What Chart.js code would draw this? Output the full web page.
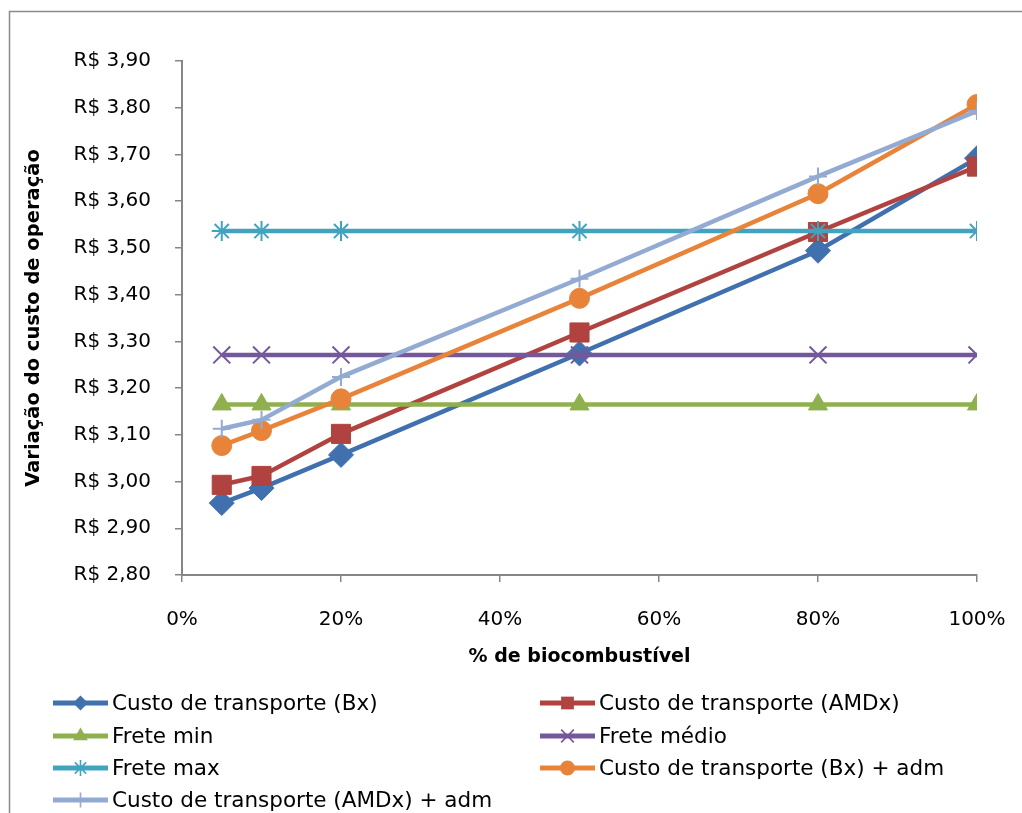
<!DOCTYPE html>
<html>
<head>
<meta charset="utf-8">
<script src="https://cdn.jsdelivr.net/npm/chart.js@4/dist/chart.umd.min.js"></script>
<style>
  html, body { margin: 0; padding: 0; background: #ffffff; }
  #wrap { width: 1022px; height: 813px; position: relative; }
</style>
</head>
<body>
<div id="wrap"><canvas id="chart" width="1022" height="813"></canvas></div>
<script>
// Share of biofuel in the blend (%)
const biofuelPct = [5, 10, 20, 50, 80, 100];

// Operating cost per series (R$)
const custoBx      = [2.954, 2.986, 3.057, 3.274, 3.494, 3.692];
const custoAMDx    = [2.993, 3.012, 3.102, 3.319, 3.534, 3.674];
const freteMin     = [3.165, 3.165, 3.165, 3.165, 3.165, 3.165];
const freteMedio   = [3.271, 3.271, 3.271, 3.271, 3.271, 3.271];
const freteMax     = [3.536, 3.536, 3.536, 3.536, 3.536, 3.536];
const custoBxAdm   = [3.077, 3.109, 3.177, 3.392, 3.616, 3.807];
const custoAMDxAdm = [3.113, 3.132, 3.224, 3.434, 3.653, 3.793];

const seriesNames = [
  'Custo de transporte (Bx)',
  'Custo de transporte (AMDx)',
  'Frete min',
  'Frete médio',
  'Frete max',
  'Custo de transporte (Bx) + adm',
  'Custo de transporte (AMDx) + adm'
];
const seriesValues = [custoBx, custoAMDx, freteMin, freteMedio, freteMax, custoBxAdm, custoAMDxAdm];
const seriesColors = ['#4070AE', '#B0433F', '#8FB04E', '#74589B', '#42A3BF', '#E8843A', '#93AAD2'];
const seriesMarkers = ['rectRot', 'rect', 'triangle', 'crossRot', 'star', 'circle', 'cross'];
const markerRadius  = [12.5, 13.5, 11, 12, 10, 10, 9];
const legendRadius  = [7.5, 9, 8.5, 9, 8, 7.5, 7.5];

const yAxisTitle = 'Variação do custo de operação';
const xAxisTitle = '% de biocombustível';

const FONT = 'DejaVu Sans';

const filledMarkers = ['rectRot', 'rect', 'triangle', 'circle'];

const datasets = seriesNames.map((name, i) => {
  const filled = filledMarkers.includes(seriesMarkers[i]);
  return {
    label: name,
    data: biofuelPct.map((x, k) => ({ x: x, y: seriesValues[i][k] })),
    borderColor: seriesColors[i],
    backgroundColor: seriesColors[i],
    borderWidth: 4.5,
    tension: 0,
    pointStyle: seriesMarkers[i],
    pointRadius: markerRadius[i],
    pointBackgroundColor: seriesColors[i],
    pointBorderColor: seriesColors[i],
    pointBorderWidth: filled ? 1 : 2,
    order: 10 - i
  };
});

// Small marker painter for the legend keys
function paintMarker(ctx, style, r, x, y) {
  ctx.beginPath();
  switch (style) {
    case 'rectRot':
      ctx.moveTo(x, y - r); ctx.lineTo(x + r, y); ctx.lineTo(x, y + r); ctx.lineTo(x - r, y); ctx.closePath();
      ctx.fill(); break;
    case 'rect': {
      const h = r * Math.SQRT1_2;
      ctx.rect(x - h, y - h, 2 * h, 2 * h); ctx.fill(); break;
    }
    case 'triangle': {
      const w = r * Math.sqrt(3) / 2;
      ctx.moveTo(x, y - r); ctx.lineTo(x + w, y + r / 2); ctx.lineTo(x - w, y + r / 2); ctx.closePath();
      ctx.fill(); break;
    }
    case 'circle':
      ctx.arc(x, y, r, 0, Math.PI * 2); ctx.fill(); break;
    case 'crossRot': {
      const d = r * Math.SQRT1_2;
      ctx.moveTo(x - d, y - d); ctx.lineTo(x + d, y + d);
      ctx.moveTo(x + d, y - d); ctx.lineTo(x - d, y + d);
      ctx.lineWidth = 1.6; ctx.stroke(); break;
    }
    case 'star': {
      const d = r * Math.SQRT1_2;
      ctx.moveTo(x - d, y - d); ctx.lineTo(x + d, y + d);
      ctx.moveTo(x + d, y - d); ctx.lineTo(x - d, y + d);
      ctx.moveTo(x, y - r); ctx.lineTo(x, y + r);
      ctx.lineWidth = 1.6; ctx.stroke(); break;
    }
    case 'cross':
      ctx.moveTo(x, y - r); ctx.lineTo(x, y + r);
      ctx.moveTo(x - r, y); ctx.lineTo(x + r, y);
      ctx.lineWidth = 1.6; ctx.stroke(); break;
  }
}

// Two-column legend beneath the axis title, plus the outer frame
const legendAndFrame = {
  id: 'legendAndFrame',
  afterDraw(chart) {
    const ctx = chart.ctx;
    ctx.save();
    // frame
    ctx.strokeStyle = '#8a8a8a';
    ctx.lineWidth = 1.5;
    ctx.strokeRect(9.5, 11.5, 1030, 830);

    const colX = [53, 540];
    const rowY = [703, 736, 768, 800];
    chart.data.datasets.forEach((ds, i) => {
      const x0 = colX[i % 2];
      const y = rowY[Math.floor(i / 2)];
      ctx.strokeStyle = ds.borderColor;
      ctx.fillStyle = ds.borderColor;
      ctx.lineWidth = 5;
      ctx.lineCap = 'butt';
      ctx.beginPath();
      ctx.moveTo(x0, y); ctx.lineTo(x0 + 55, y);
      ctx.stroke();
      paintMarker(ctx, ds.pointStyle, legendRadius[i], x0 + 27.5, y);
      ctx.fillStyle = '#000000';
      ctx.font = '21.5px "' + FONT + '"';
      ctx.textAlign = 'left';
      ctx.textBaseline = 'middle';
      ctx.fillText(ds.label, x0 + 59, y + 1);
    });
    ctx.restore();
  }
};

new Chart(document.getElementById('chart'), {
  type: 'line',
  data: { datasets: datasets },
  plugins: [legendAndFrame],
  options: {
    responsive: false,
    animation: false,
    devicePixelRatio: 1,
    events: [],
    layout: { padding: { left: 0, top: 61, right: 45, bottom: 138 } },
    plugins: {
      legend: { display: false },
      tooltip: { enabled: false }
    },
    scales: {
      x: {
        type: 'linear',
        min: 0,
        max: 100,
        ticks: {
          stepSize: 20,
          color: '#000000',
          padding: 26,
          font: { family: FONT, size: 20 },
          callback: v => v + '%'
        },
        grid: { drawOnChartArea: false, tickLength: 7, color: '#868686', lineWidth: 1.5 },
        border: { color: '#868686', width: 2 },
        title: {
          display: true,
          text: xAxisTitle,
          color: '#000000',
          font: { family: FONT, size: 19, weight: 'bold' },
          padding: { top: 0, bottom: 7 }
        },
        afterFit(scale) {
          scale.height = 100;
          scale.paddingLeft = 0;
          scale.paddingRight = 0;
        }
      },
      y: {
        min: 2.8,
        max: 3.9,
        ticks: {
          stepSize: 0.1,
          color: '#000000',
          padding: 24,
          font: { family: FONT, size: 20 },
          callback: v => 'R$ ' + Number(v).toFixed(2).replace('.', ',')
        },
        grid: { drawOnChartArea: false, tickLength: 7, color: '#868686', lineWidth: 1.5 },
        border: { color: '#868686', width: 2 },
        title: {
          display: true,
          text: yAxisTitle,
          color: '#000000',
          font: { family: FONT, size: 19.5, weight: 'bold' },
          padding: { top: 22, bottom: 0 }
        },
        afterFit(scale) {
          scale.width = 182;
          scale.paddingTop = 0;
          scale.paddingBottom = 0;
        }
      }
    }
  }
});
</script>
</body>
</html>
